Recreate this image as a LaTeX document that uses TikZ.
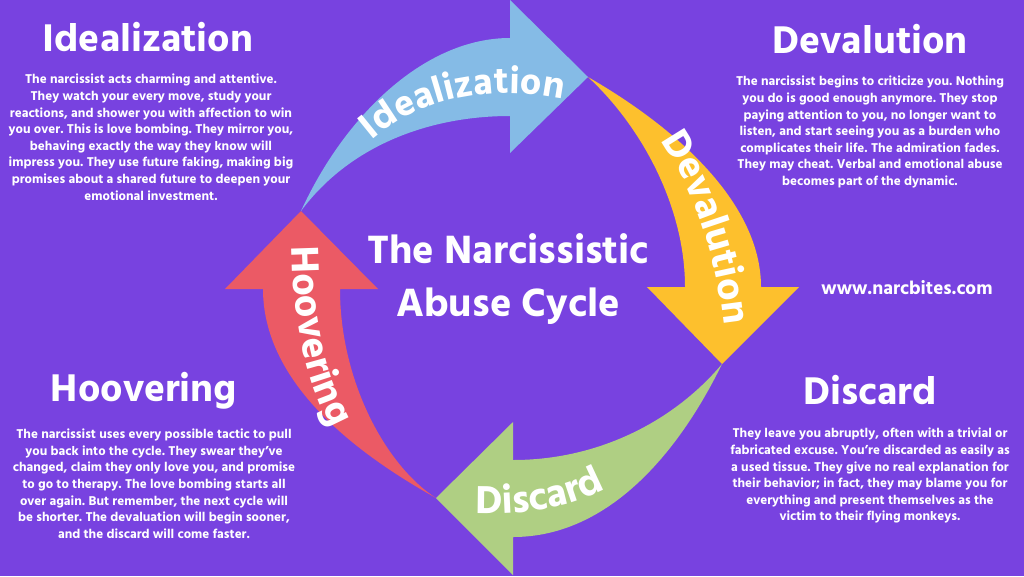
\documentclass[tikz,border=0pt]{standalone}
\usepackage{fontspec}
\setmainfont{Hind Siliguri}[BoldFont={Hind Siliguri Bold}]
\usetikzlibrary{positioning,decorations.text}

\definecolor{bgpurple}{HTML}{7842E0}
\definecolor{idealblue}{HTML}{85BBE6}
\definecolor{devalyellow}{HTML}{FDC02D}
\definecolor{discardgreen}{HTML}{AFCF83}
\definecolor{hooverred}{HTML}{EB5A65}

\newcommand{\arrowlabelfont}{\color{white}\fontsize{40}{40}\selectfont\bfseries}
\newcommand{\ideallabelfont}{\color{white}\fontsize{38}{38}\selectfont\bfseries}

\tikzset{
    heading/.style={text=white, font=\fontsize{39.6}{42}\selectfont\bfseries, inner sep=0pt, align=center},
    bodytext/.style={text=white, font=\fontsize{13.1}{16.6}\selectfont\bfseries\frenchspacing, inner sep=0pt, align=center},
    titletext/.style={text=white, font=\fontsize{40.5}{53}\selectfont\bfseries, inner sep=0pt, align=center},
}

\begin{document}
\begin{tikzpicture}[x=1pt, y=-1pt]
    \fill[bgpurple] (0,0) rectangle (1024,576);
    \useasboundingbox (0,0) rectangle (1024,576);

    % the four arrows
    \fill[idealblue] (301,211) .. controls (345,115) and (425,38) .. (510,38) -- (510,0) -- (588,77) -- (510,153) -- (510,116) .. controls (430,116) and (350,145) .. cycle;
    \fill[devalyellow] (588,77) .. controls (640,125) and (685,205) .. (685,287) -- (647,287) -- (722,364) -- (799,287) -- (761,287) .. controls (761,205) and (680,130) .. cycle;
    \fill[discardgreen] (722,364) .. controls (675,420) and (600,460) .. (513,460) -- (513,422) -- (436,498) -- (513,575) -- (513,537) .. controls (610,537) and (680,450) .. cycle;
    \fill[hooverred] (436,498) .. controls (385,465) and (340,380) .. (340,289) -- (378,289) -- (301,211) -- (225,289) -- (263,289) .. controls (263,380) and (350,450) .. cycle;

    % labels on the arrows
    \path[decorate, decoration={text along path, text align=center, text={|\ideallabelfont|Idealization}}] (371,141) .. controls (420,98) and (490,84) .. (564,99);
    \path[decorate, decoration={text along path, text align=center, text={|\arrowlabelfont|Devalution}}] (660,140) .. controls (695,190) and (717,260) .. (724,326);
    \path[decorate, decoration={text along path, text align=center, text={|\arrowlabelfont|Discard}}] (470,513) .. controls (520,516) and (570,510) .. (610,486);
    \path[decorate, decoration={text along path, text align=center, text={|\arrowlabelfont|Hoovering}}] (292,238) .. controls (292,310) and (303,380) .. (336,436);

    \node[titletext] (title) at (508,279) {The Narcissistic\\Abuse Cycle};
    \node[text=white, font=\fontsize{19}{22}\selectfont\bfseries, inner sep=0pt] (site) at (907,288) {www.narcbites.com};

    \node[heading] (idealhead) at (148,37) {Idealization};
    \node[bodytext, below=22pt of idealhead, xshift=3pt] (idealbody) {The narcissist acts charming and attentive.\\
        They watch your every move, study your\\
        reactions, and shower you with affection to win\\
        you over. This is love bombing. They mirror you,\\
        behaving exactly the way they know will\\
        impress you. They use future faking, making big\\
        promises about a shared future to deepen your\\
        emotional investment.};

    \node[heading] (devalhead) at (870,39) {Devalution};
    \node[bodytext, below=22pt of devalhead] (devalbody) {The narcissist begins to criticize you. Nothing\\
        you do is good enough anymore. They stop\\
        paying attention to you, no longer want to\\
        listen, and start seeing you as a burden who\\
        complicates their life. The admiration fades.\\
        They may cheat. Verbal and emotional abuse\\
        becomes part of the dynamic.};

    \node[heading] (hoovhead) at (144,391) {Hoovering};
    \node[bodytext, below=19pt of hoovhead, xshift=10pt] (hoovbody) {The narcissist uses every possible tactic to pull\\
        you back into the cycle. They swear they’ve\\
        changed, claim they only love you, and promise\\
        to go to therapy. The love bombing starts all\\
        over again. But remember, the next cycle will\\
        be shorter. The devaluation will begin sooner,\\
        and the discard will come faster.};

    \node[heading] (discardhead) at (870,390) {Discard};
    \node[bodytext, below=23pt of discardhead] (discardbody) {They leave you abruptly, often with a trivial or\\
        fabricated excuse. You’re discarded as easily as\\
        a used tissue. They give no real explanation for\\
        their behavior; in fact, they may blame you for\\
        everything and present themselves as the\\
        victim to their flying monkeys.};
\end{tikzpicture}
\end{document}
